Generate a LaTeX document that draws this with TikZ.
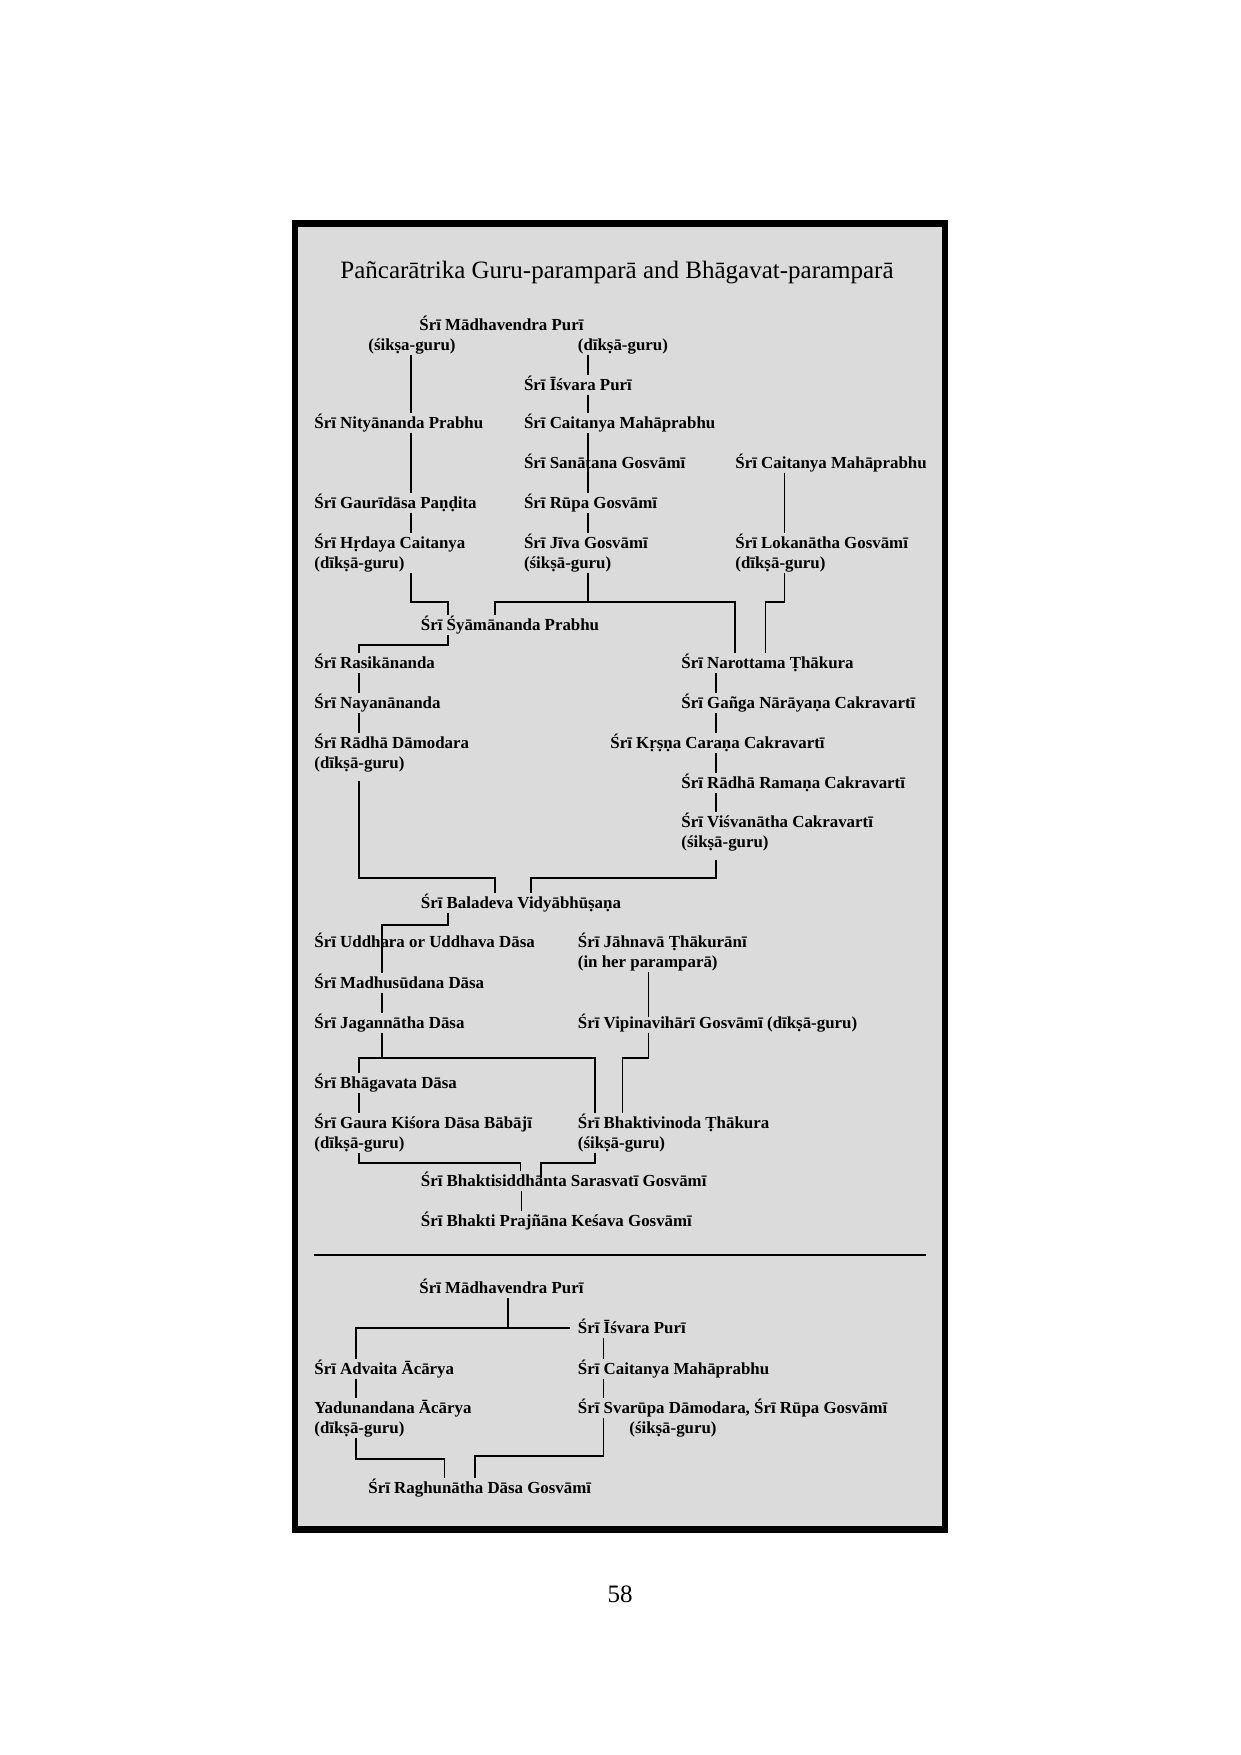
\documentclass[tikz,border=0pt]{standalone}
\usepackage{fontspec}
\setmainfont{Liberation Serif}
\usetikzlibrary{calc}
\definecolor{panel}{RGB}{219,219,219}
\newcommand\nfont{\bfseries\fontsize{8.1bp}{9.7bp}\selectfont}
\newcommand\tfont{\fontsize{12bp}{14bp}\selectfont}
\begin{document}
\begin{tikzpicture}[x=0.48bp,y=-0.48bp,
  nm/.style={anchor=base west, inner sep=0pt, font=\nfont, text height=7bp, text depth=2bp},
  link/.style={line width=0.7bp, draw=black},
  sepline/.style={line width=0.8bp, draw=black},
  frame/.style={fill=panel, draw=black, line width=3.17bp}]
\useasboundingbox (0,0) rectangle (1240,1755);
\fill[white] (0,0) rectangle (1240,1755);
\path[frame] (295,223.3) rectangle (945,1529.4);

\node[anchor=base, inner sep=0pt, font=\tfont] (title) at (617,278) {Pañcarātrika Guru-paramparā and Bhāgavat-paramparā};
\node[anchor=base, inner sep=0pt, font=\tfont] (pnum) at (620,1602) {58};

% x positions of connector lines
\coordinate (xA) at (411,0);
\coordinate (xB) at (588,0);
\coordinate (xC) at (784.5,0);
\coordinate (xS1) at (448,0);
\coordinate (xS2) at (495,0);
\coordinate (xN1) at (735,0);
\coordinate (xN2) at (765.6,0);
\coordinate (xD) at (359,0);
\coordinate (xK) at (716,0);
\coordinate (xB2) at (531,0);
\coordinate (xU) at (382,0);
\coordinate (xJ) at (648.6,0);
\coordinate (xV) at (622.5,0);
\coordinate (xT) at (595,0);
\coordinate (xG1) at (520.6,0);
\coordinate (xG2) at (541,0);
\coordinate (xP) at (521.5,0);
\coordinate (xM) at (508,0);
\coordinate (xY) at (356,0);
\coordinate (xI) at (603.5,0);
\coordinate (xR1) at (444.5,0);
\coordinate (xR2) at (475,0);
% junction heights
\coordinate (jy1) at (0,602);
\coordinate (jy2) at (0,645);
\coordinate (jy3) at (0,878);
\coordinate (jy4) at (0,925);
\coordinate (jy5) at (0,1058);
\coordinate (jy6) at (0,1163);
\coordinate (jy7) at (0,1328);
\coordinate (jy8) at (0,1459);
\coordinate (jy9) at (0,1456);

% names
\node[nm] (madh1) at (419,330) {Śrī Mādhavendra Purī};
\node[nm] (sik1) at (368,350) {(śikṣa-guru)};
\node[nm] (dik1) at (577.5,350) {(dīkṣā-guru)};
\node[nm] (isv1) at (523.6,390) {Śrī Īśvara Purī};
\node[nm] (nity) at (314,428) {Śrī Nityānanda Prabhu};
\node[nm] (cait1) at (523.6,428) {Śrī Caitanya Mahāprabhu};
\node[nm] (sana) at (523.6,468) {Śrī Sanātana Gosvāmī};
\node[nm] (cait2) at (735,468) {Śrī Caitanya Mahāprabhu};
\node[nm] (gaur) at (314,508) {Śrī Gaurīdāsa Paṇḍita};
\node[nm] (rupa) at (523.6,508) {Śrī Rūpa Gosvāmī};
\node[nm] (hrd) at (314,548) {Śrī Hṛdaya Caitanya};
\node[nm] (hrd2) at (314,568) {(dīkṣā-guru)};
\node[nm] (jiva) at (523.6,548) {Śrī Jīva Gosvāmī};
\node[nm] (jiva2) at (523.6,568) {(śikṣā-guru)};
\node[nm] (loka) at (735,548) {Śrī Lokanātha Gosvāmī};
\node[nm] (loka2) at (735,568) {(dīkṣā-guru)};
\node[nm] (syam) at (420.5,630) {Śrī Śyāmānanda Prabhu};
\node[nm] (rasi) at (314,668) {Śrī Rasikānanda};
\node[nm] (naro) at (681,668) {Śrī Narottama Ṭhākura};
\node[nm] (naya) at (314,708) {Śrī Nayanānanda};
\node[nm] (ganga) at (681,708) {Śrī Gañga Nārāyaṇa Cakravartī};
\node[nm] (radha) at (314,748) {Śrī Rādhā Dāmodara};
\node[nm] (radha2) at (314,768) {(dīkṣā-guru)};
\node[nm] (krsna) at (610,748) {Śrī Kṛṣṇa Caraṇa Cakravartī};
\node[nm] (ramana) at (681,788) {Śrī Rādhā Ramaṇa Cakravartī};
\node[nm] (visva) at (681,827) {Śrī Viśvanātha Cakravartī};
\node[nm] (visva2) at (681,847) {(śikṣā-guru)};
\node[nm] (bala) at (420.5,908) {Śrī Baladeva Vidyābhūṣaṇa};
\node[nm] (uddh) at (314,947) {Śrī Uddhara or Uddhava Dāsa};
\node[nm] (jahn) at (577.5,947) {Śrī Jāhnavā Ṭhākurānī};
\node[nm] (jahn2) at (577.5,967) {(in her paramparā)};
\node[nm] (madhu) at (314,988) {Śrī Madhusūdana Dāsa};
\node[nm] (jagan) at (314,1028) {Śrī Jagannātha Dāsa};
\node[nm] (vipi) at (577.5,1028) {Śrī Vipinavihārī Gosvāmī (dīkṣā-guru)};
\node[nm] (bhag) at (314,1088) {Śrī Bhāgavata Dāsa};
\node[nm] (gkd) at (314,1128) {Śrī Gaura Kiśora Dāsa Bābājī};
\node[nm] (gkd2) at (314,1148) {(dīkṣā-guru)};
\node[nm] (bvt) at (577.5,1128) {Śrī Bhaktivinoda Ṭhākura};
\node[nm] (bvt2) at (577.5,1148) {(śikṣā-guru)};
\node[nm] (bss) at (420.5,1186) {Śrī Bhaktisiddhānta Sarasvatī Gosvāmī};
\node[nm] (bpk) at (420.5,1226) {Śrī Bhakti Prajñāna Keśava Gosvāmī};

\node[nm] (madh2) at (419,1293) {Śrī Mādhavendra Purī};
\node[nm] (isv2) at (577.5,1333) {Śrī Īśvara Purī};
\node[nm] (advaita) at (314,1374) {Śrī Advaita Ācārya};
\node[nm] (cait3) at (577.5,1374) {Śrī Caitanya Mahāprabhu};
\node[nm] (yadu) at (314,1413) {Yadunandana Ācārya};
\node[nm] (yadu2) at (314,1433) {(dīkṣā-guru)};
\node[nm] (svarupa) at (577.5,1413) {Śrī Svarūpa Dāmodara, Śrī Rūpa Gosvāmī};
\node[nm] (svarupa2) at (629,1433) {(śikṣā-guru)};
\node[nm] (ragh) at (368,1493) {Śrī Raghunātha Dāsa Gosvāmī};

% connectors, upper tree
\draw[link] (sik1.south -| xA) -- (nity.north -| xA);
\draw[link] (nity.south -| xA) -- (gaur.north -| xA);
\draw[link] (gaur.south -| xA) -- (hrd.north -| xA);
\draw[link] (hrd2.south -| xA) -- (xA |- jy1) -| (syam.north -| xS1);
\draw[link] (dik1.south -| xB) -- (isv1.north -| xB);
\draw[link] (isv1.south -| xB) -- (cait1.north -| xB);
\draw[link] (cait1.south -| xB) -- (rupa.north -| xB);
\draw[link] (rupa.south -| xB) -- (jiva.north -| xB);
\draw[link] (jiva2.south -| xB) -- (xB |- jy1);
\draw[link] (syam.north -| xS2) -- (xS2 |- jy1) -- (xN1 |- jy1) -- (naro.north -| xN1);
\draw[link] (cait2.south -| xC) -- (loka.north -| xC);
\draw[link] (loka2.south -| xC) -- (xC |- jy1) -| (naro.north -| xN2);
\draw[link] (syam.south -| xS1) -- (xS1 |- jy2) -| (rasi.north -| xD);
\draw[link] (rasi.south -| xD) -- (naya.north -| xD);
\draw[link] (naya.south -| xD) -- (radha.north -| xD);
\draw[link] (naro.south -| xK) -- (ganga.north -| xK);
\draw[link] (ganga.south -| xK) -- (krsna.north -| xK);
\draw[link] (krsna.south -| xK) -- (ramana.north -| xK);
\draw[link] (ramana.south -| xK) -- (visva.north -| xK);
\draw[link] ($(radha2.south -| xD)+(0,8)$) -- (xD |- jy3) -| (bala.north -| xS2);
\draw[link] ($(visva2.south -| xK)+(0,8)$) -- (xK |- jy3) -| (bala.north -| xB2);
\draw[link] (bala.south -| xS1) -- (xS1 |- jy4) -| (uddh.base -| xU);
\draw[link] (uddh.base -| xU) -- (madhu.north -| xU);
\draw[link] (madhu.south -| xU) -- (jagan.north -| xU);
\draw[link] (jagan.south -| xU) -- (xU |- jy5);
\draw[link] (bhag.north -| xD) -- (xD |- jy5) -- (xT |- jy5) -- (bvt.north -| xT);
\draw[link] (jahn2.south -| xJ) -- ($(vipi.north -| xJ)+(0,4)$);
\draw[link] (vipi.south -| xJ) -- (xJ |- jy5) -| (bvt.north -| xV);
\draw[link] (bhag.south -| xD) -- (gkd.north -| xD);
\draw[link] (gkd2.south -| xD) -- (xD |- jy6) -| (bss.north -| xG1);
\draw[link] (bvt2.south -| xT) -- (xT |- jy6) -| ($(bss.north -| xG2)+(0,7)$);
\draw[link] (bss.south -| xP) -- (bpk.north -| xP);

% separator
\coordinate (sepL) at (314,1255);
\coordinate (sepR) at (925.5,1255);
\draw[sepline] (sepL) -- (sepR);

% connectors, lower tree
\draw[link] (madh2.south -| xM) -- (xM |- jy7);
\draw[link] ($(isv2.west |- jy7)+(-8,0)$) -- (xY |- jy7) -- (advaita.north -| xY);
\draw[link] (isv2.south -| xI) -- (cait3.north -| xI);
\draw[link] (cait3.south -| xI) -- (svarupa.north -| xI);
\draw[link] (advaita.south -| xY) -- (yadu.north -| xY);
\draw[link] (yadu2.south -| xY) -- (xY |- jy8) -| (ragh.north -| xR1);
\draw[link] (svarupa.south -| xI) -- (xI |- jy9) -| (ragh.north -| xR2);
\end{tikzpicture}
\end{document}
